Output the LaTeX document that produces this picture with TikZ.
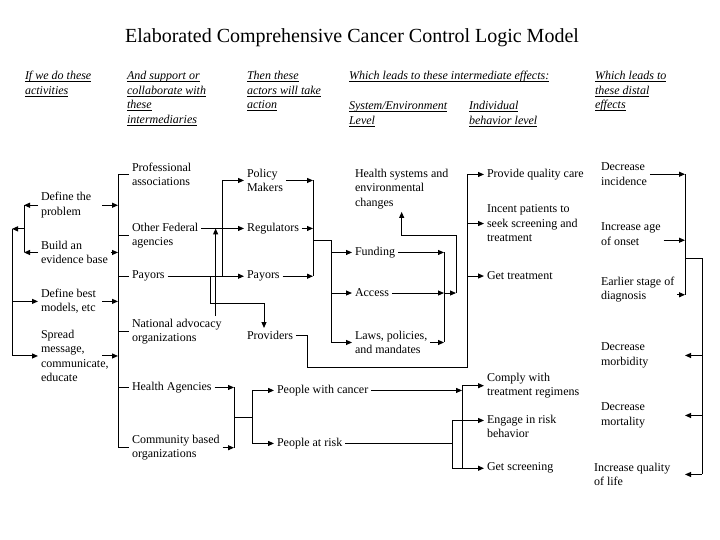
\documentclass[tikz,border=0pt]{standalone}
\usepackage{fontspec}
\setmainfont{Liberation Serif}
\usetikzlibrary{arrows.meta}
\newcommand{\hul}[1]{\underline{\smash{#1}\vphantom{A}}}

\begin{document}
\begin{tikzpicture}[
        x=1pt, y=-1pt, line width=1pt,
        >={Triangle[length=6pt,width=5pt]},
        every node/.append style={inner sep=0pt, outer sep=3pt, align=left, anchor=north west, font=\fontsize{12pt}{14.5pt}\selectfont},
        head/.style={font=\fontsize{12pt}{14.5pt}\selectfont\itshape}
    ]
        \useasboundingbox (0,0) rectangle (720,540);
        \node[anchor=base, font=\fontsize{20pt}{24pt}\selectfont] (T) at (352,43) {Elaborated Comprehensive Cancer Control Logic Model};

        \node[head] (H1) at (22,69)  {\hul{If we do these}\\\hul{activities}};
        \node[head] (H2) at (124,69) {\hul{And support or}\\\hul{collaborate with}\\\hul{these}\\\hul{intermediaries}};
        \node[head] (H3) at (244,69) {\hul{Then these}\\\hul{actors will take}\\\hul{action}};
        \node[head] (H4) at (346,69) {\hul{Which leads to these intermediate effects:}};
        \node[head] (H5) at (346,99) {\hul{System/Environment}\\\hul{Level}};
        \node[head] (H6) at (466,99) {\hul{Individual}\\\hul{behavior level}};
        \node[head] (H7) at (592,69) {\hul{Which leads to}\\\hul{these distal}\\\hul{effects}};

        \node (A1) at (38,189.5) {Define the\\problem};
        \node (A2) at (38,238)   {Build an\\evidence base};
        \node (A3) at (38,286)   {Define best\\models, etc};
        \node (A4) at (38,327)   {Spread\\message,\\communicate,\\educate};

        \node (I1) at (129,160) {Professional\\associations};
        \node (I2) at (129,220) {Other Federal\\agencies};
        \node (I3) at (129,268) {Payors};
        \node (I4) at (129,316) {National advocacy\\organizations};
        \node (I5) at (129,379) {Health Agencies};
        \node (I6) at (129,432) {Community based\\organizations};

        \node (P1) at (244,166) {Policy\\Makers};
        \node (P2) at (244,220) {Regulators};
        \node (P3) at (244,268) {Payors};
        \node (P4) at (244,328) {Providers};

        \node (S1) at (352,166) {Health systems and\\environmental\\changes};
        \node (S2) at (352,244) {Funding};
        \node (S3) at (352,286) {Access};
        \node (S4) at (352,328) {Laws, policies,\\and mandates};

        \node (G1) at (274,382) {People with cancer};
        \node (G2) at (274,435) {People at risk};

        \node (B1) at (484,166) {Provide quality care};
        \node (B2) at (484,202) {Incent patients to\\seek screening and\\treatment};
        \node (B3) at (484,269) {Get treatment};
        \node (B4) at (484,370) {Comply with\\treatment regimens};
        \node (B5) at (484,412) {Engage in risk\\behavior};
        \node (B6) at (484,460) {Get screening};

        \node (D1) at (598,160) {Decrease\\incidence};
        \node (D2) at (598,220) {Increase age\\of onset};
        \node (D3) at (598,274) {Earlier stage of\\diagnosis};
        \node (D4) at (598,340) {Decrease\\morbidity};
        \node (D5) at (598,400) {Decrease\\mortality};
        \node (D6) at (591,460) {Increase quality\\of life};

        \coordinate (xl) at (12,0);
        \coordinate (xa) at (24,0);
        \coordinate (xs) at (102,0);
        \coordinate (xb) at (118,0);
        \coordinate (xc) at (222,0);
        \coordinate (j1) at (210,303);
        \coordinate (xf) at (313,0);
        \coordinate (j2) at (331,240);
        \coordinate (xg) at (444,0);
        \coordinate (xh) at (456,0);
        \coordinate (j3) at (403,235);
        \coordinate (j4) at (307,367);
        \coordinate (xi) at (467,0);
        \coordinate (xj) at (234,0);
        \coordinate (xk) at (252,0);
        \coordinate (xm) at (452,0);
        \coordinate (xq) at (462,0);
        \coordinate (xr) at (685,0);
        \coordinate (j5) at (702,258);

        \draw[->] (A1.west) -- (A1.west -| xa);
        \draw[->] (A2.west) -- (A2.west -| xa);
        \draw (A1.west -| xa) -- coordinate (M1) (A2.west -| xa);
        \draw[->] (M1) -- (M1 -| xl);
        \draw[->] (M1 -| xl) |- (A4.west);
        \draw[->] (A3.west -| xl) -- (A3.west);
        \draw[->] (A1.west -| xs) -- (A1.west -| xb);
        \draw[->] (A2.east) -- (A2.east -| xb);
        \draw[->] (A3.west -| xs) -- (A3.west -| xb);
        \draw[->] (A4.west -| xs) -- (A4.west -| xb);

        \draw (I1.west) -| (I6.west -| xb) -- (I6.west);
        \draw (I2.west -| xb) -- (I2.west);
        \draw (I3.west -| xb) -- (I3.west);
        \draw (I4.west -| xb) -- (I4.west);
        \draw (I5.west -| xb) -- (I5.west);

        \draw[->] (I2.east |- P2.west) -- (P2.west);
        \draw[->] (I3.east) -- (P3.west);
        \draw[->] (P3.west -| xc) |- (P1.west);
        \draw[->] (P3.west -| j1) -- (j1) -| ([xshift=-6pt]P4.north);
        \coordinate (N4) at ([xshift=-9pt]I4.north east);
        \draw[->] (N4) -- (N4 |- P2.west);

        \draw[->] (P1.east) -- (P1.east -| xf);
        \draw[->] (P2.east) -- (P2.east -| xf);
        \draw[->] (P3.east) -- (P3.east -| xf);
        \draw (P1.east -| xf) -- (P3.east -| xf);
        \draw (j2 -| xf) -- (j2);
        \draw[->] (j2) |- (S2.west);
        \draw[->] (j2) |- (S3.west);
        \draw[->] (j2) |- (S4.west);

        \draw[->] (S2.east) -- (S2.east -| xg);
        \draw[->] (S3.east) -- (S3.east -| xg);
        \draw[->] (S4.east) -- (S4.east -| xg);
        \draw (S2.east -| xg) -- (S4.east -| xg);
        \draw[->] (S3.east -| xg) -- (S3.east -| xh);
        \draw[->] (S3.east -| xh) |- (S1.south |- j3) -- (S1.south);

        \draw[->] (P4.east) -| (j4) -| (B1.west -| xi) -- (B1.west);
        \draw[->] (B2.west -| xi) -- (B2.west);
        \draw[->] (B3.west -| xi) -- (B3.west);

        \draw[->] (I5.east) -- (I5.east -| xj);
        \draw[->] (I6.east) -- (I6.east -| xj);
        \draw (I5.east -| xj) -- coordinate (M2) (I6.east -| xj);
        \draw (M2) -- (M2 -| xk);
        \draw[->] (M2 -| xk) |- (G1.west);
        \draw[->] (M2 -| xk) |- (G2.west);

        \draw[->] (G1.east) -- (G1.east -| xq);
        \draw (B4.west -| xq) -- (B6.west -| xq);
        \draw[->] (B4.west -| xq) -- (B4.west);
        \draw[->] (B6.west -| xq) -- (B6.west);
        \coordinate (E5) at ([yshift=6pt]B5.west);
        \draw (G2.east) -- (G2.east -| xm);
        \draw (E5 -| xm) -- (B6.west -| xm) -- (B6.west -| xq);
        \draw[->] (E5 -| xm) -- (E5);

        \coordinate (E2) at ([yshift=-6pt]D2.east);
        \coordinate (E3) at ([yshift=-5pt]D3.east);
        \draw[->] (D1.east) -- (D1.east -| xr);
        \draw[->] (E2) -- (E2 -| xr);
        \draw[->] (E3) -- (E3 -| xr);
        \draw (D1.east -| xr) -- (E3 -| xr);
        \draw (j5 -| xr) -- (j5) -- (j5 |- D6.east);
        \draw[->] (j5 |- D4.east) -- (D4.east -| xr);
        \draw[->] (j5 |- D5.east) -- (D5.east -| xr);
        \draw[->] (j5 |- D6.east) -- (D6.east -| xr);
\end{tikzpicture}
\end{document}
